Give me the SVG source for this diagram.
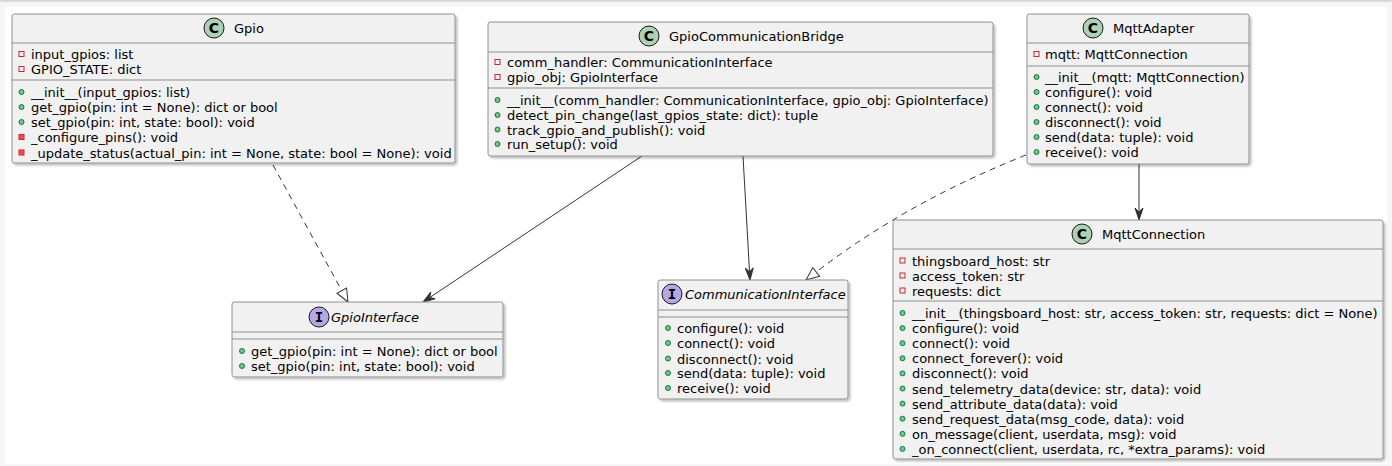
<svg xmlns="http://www.w3.org/2000/svg" width="1392" height="466" viewBox="0 0 1392 466">
<style>
.box{fill:#F1F1F1;stroke:#8f8f8f;stroke-width:1;filter:url(#sh)}
.sep{stroke:#8f8f8f;stroke-width:1}
text{font-family:"DejaVu Sans","Liberation Sans",sans-serif;font-size:13px;fill:#000}
.it{font-style:italic}
.cc{fill:#ADD1B2;stroke:#181818;stroke-width:1}
.ic{fill:#B4A7E5;stroke:#181818;stroke-width:1}
.cl{font-weight:bold;font-size:14px;text-anchor:middle}
.il{font-family:"DejaVu Sans Mono",monospace;font-weight:bold;font-size:14px;text-anchor:middle}
.pa{fill:none;stroke:#C82930;stroke-width:1}
.pm{fill:#F24D5C;stroke:#C82930;stroke-width:1}
.pu{fill:#84BE84;stroke:#038048;stroke-width:1}
.ln{fill:none;stroke:#333;stroke-width:1}
.dash{stroke-dasharray:6,5}
</style>
<defs>
<filter id="sh" x="-5%" y="-5%" width="110%" height="115%">
<feDropShadow dx="2" dy="2" stdDeviation="1.2" flood-color="#000" flood-opacity="0.25"/>
</filter>
<marker id="arr" markerUnits="userSpaceOnUse" markerWidth="14" markerHeight="12" refX="12" refY="5" orient="auto" overflow="visible">
<path d="M0,1 L12,5 L0,9 L4,5 Z" fill="#333" stroke="#333" stroke-width="1"/>
</marker>
<marker id="tri" markerUnits="userSpaceOnUse" markerWidth="16" markerHeight="14" refX="13" refY="5.5" orient="auto" overflow="visible">
<path d="M0,0 L13,5.5 L0,11 Z" fill="#fff" stroke="#333" stroke-width="1" stroke-dasharray="none"/>
</marker>
</defs>
<rect x="0" y="0" width="1392" height="466" fill="#f6f6f6"/>
<line x1="0" y1="1" x2="1392" y2="1" stroke="#cfcfcf" stroke-width="1.5"/>
<rect x="5" y="7" width="1382" height="457" fill="#fff"/>

<g id="connectors">
<path class="ln dash" d="M273,165 L348,302" marker-end="url(#tri)"/>
<path class="ln" d="M642,156 L423,302" marker-end="url(#arr)"/>
<path class="ln" d="M743,156 L750,280" marker-end="url(#arr)"/>
<path class="ln dash" d="M1026,155 Q 900,205 806,280" marker-end="url(#tri)"/>
<path class="ln" d="M1139,164 L1139,220" marker-end="url(#arr)"/>
</g>

<g id="Gpio">
<rect class="box" x="12" y="14" width="443" height="149" rx="2.5"/>
<circle class="cc" cx="214" cy="28" r="10"/><text class="cl" x="214" y="33">C</text>
<text x="234" y="33">Gpio</text>
<line class="sep" x1="12" y1="43" x2="455" y2="43"/>
<rect class="pa" x="19" y="51.5" width="5" height="5"/><text x="31" y="59">input_gpios: list</text>
<rect class="pa" x="19" y="66.5" width="5" height="5"/><text x="31" y="74">GPIO_STATE: dict</text>
<line class="sep" x1="12" y1="80" x2="455" y2="80"/>
<circle class="pu" cx="21.5" cy="92" r="2.5"/><text x="31" y="97">__init__(input_gpios: list)</text>
<circle class="pu" cx="21.5" cy="107" r="2.5"/><text x="31" y="112">get_gpio(pin: int = None): dict or bool</text>
<circle class="pu" cx="21.5" cy="122" r="2.5"/><text x="31" y="127">set_gpio(pin: int, state: bool): void</text>
<rect class="pm" x="19" y="134.5" width="5" height="5"/><text x="31" y="142">_configure_pins(): void</text>
<rect class="pm" x="19" y="150" width="5" height="5"/><text x="31" y="157.5">_update_status(actual_pin: int = None, state: bool = None): void</text>
</g>

<g id="GpioCommunicationBridge">
<rect class="box" x="488" y="22" width="505" height="134" rx="2.5"/>
<circle class="cc" cx="649" cy="36" r="10"/><text class="cl" x="649" y="41">C</text>
<text x="669" y="41">GpioCommunicationBridge</text>
<line class="sep" x1="488" y1="52" x2="993" y2="52"/>
<rect class="pa" x="495" y="59.5" width="5" height="5"/><text x="507" y="67">comm_handler: CommunicationInterface</text>
<rect class="pa" x="495" y="74.5" width="5" height="5"/><text x="507" y="82">gpio_obj: GpioInterface</text>
<line class="sep" x1="488" y1="88" x2="993" y2="88"/>
<circle class="pu" cx="497.5" cy="100" r="2.5"/><text x="507" y="105">__init__(comm_handler: CommunicationInterface, gpio_obj: GpioInterface)</text>
<circle class="pu" cx="497.5" cy="115" r="2.5"/><text x="507" y="120">detect_pin_change(last_gpios_state: dict): tuple</text>
<circle class="pu" cx="497.5" cy="129.5" r="2.5"/><text x="507" y="134.5">track_gpio_and_publish(): void</text>
<circle class="pu" cx="497.5" cy="144" r="2.5"/><text x="507" y="149">run_setup(): void</text>
</g>

<g id="MqttAdapter">
<rect class="box" x="1027" y="14" width="222" height="150" rx="2.5"/>
<circle class="cc" cx="1093" cy="28" r="10"/><text class="cl" x="1093" y="33">C</text>
<text x="1113" y="33">MqttAdapter</text>
<line class="sep" x1="1027" y1="43" x2="1249" y2="43"/>
<rect class="pa" x="1034" y="51.5" width="5" height="5"/><text x="1045" y="59">mqtt: MqttConnection</text>
<line class="sep" x1="1027" y1="66" x2="1249" y2="66"/>
<circle class="pu" cx="1036.5" cy="77" r="2.5"/><text x="1045" y="82">__init__(mqtt: MqttConnection)</text>
<circle class="pu" cx="1036.5" cy="92" r="2.5"/><text x="1045" y="97">configure(): void</text>
<circle class="pu" cx="1036.5" cy="107" r="2.5"/><text x="1045" y="112">connect(): void</text>
<circle class="pu" cx="1036.5" cy="122" r="2.5"/><text x="1045" y="127">disconnect(): void</text>
<circle class="pu" cx="1036.5" cy="137" r="2.5"/><text x="1045" y="142">send(data: tuple): void</text>
<circle class="pu" cx="1036.5" cy="152" r="2.5"/><text x="1045" y="157">receive(): void</text>
</g>

<g id="GpioInterface">
<rect class="box" x="232" y="302" width="271" height="75" rx="2.5"/>
<circle class="ic" cx="319" cy="317" r="10"/><text class="il" x="319" y="322">I</text>
<text class="it" x="331" y="322">GpioInterface</text>
<line class="sep" x1="232" y1="332" x2="503" y2="332"/>
<line class="sep" x1="232" y1="339" x2="503" y2="339"/>
<circle class="pu" cx="242" cy="351" r="2.5"/><text x="251" y="356">get_gpio(pin: int = None): dict or bool</text>
<circle class="pu" cx="242" cy="366" r="2.5"/><text x="251" y="371">set_gpio(pin: int, state: bool): void</text>
</g>

<g id="CommunicationInterface">
<rect class="box" x="658" y="280" width="190" height="119" rx="2.5"/>
<circle class="ic" cx="672" cy="294" r="10"/><text class="il" x="672" y="299">I</text>
<text class="it" x="685" y="299">CommunicationInterface</text>
<line class="sep" x1="658" y1="310" x2="848" y2="310"/>
<line class="sep" x1="658" y1="317" x2="848" y2="317"/>
<circle class="pu" cx="668" cy="328" r="2.5"/><text x="677" y="333">configure(): void</text>
<circle class="pu" cx="668" cy="343" r="2.5"/><text x="677" y="348">connect(): void</text>
<circle class="pu" cx="668" cy="358.5" r="2.5"/><text x="677" y="363.5">disconnect(): void</text>
<circle class="pu" cx="668" cy="373" r="2.5"/><text x="677" y="378">send(data: tuple): void</text>
<circle class="pu" cx="668" cy="388" r="2.5"/><text x="677" y="393">receive(): void</text>
</g>

<g id="MqttConnection">
<rect class="box" x="893" y="220" width="490" height="239" rx="2.5"/>
<circle class="cc" cx="1082" cy="234" r="10"/><text class="cl" x="1082" y="239">C</text>
<text x="1102" y="239">MqttConnection</text>
<line class="sep" x1="893" y1="249" x2="1383" y2="249"/>
<rect class="pa" x="900" y="258" width="5" height="5"/><text x="912" y="265.5">thingsboard_host: str</text>
<rect class="pa" x="900" y="273" width="5" height="5"/><text x="912" y="280.5">access_token: str</text>
<rect class="pa" x="900" y="288" width="5" height="5"/><text x="912" y="295.5">requests: dict</text>
<line class="sep" x1="893" y1="301" x2="1383" y2="301"/>
<circle class="pu" cx="902.5" cy="313" r="2.5"/><text x="912" y="318">__init__(thingsboard_host: str, access_token: str, requests: dict = None)</text>
<circle class="pu" cx="902.5" cy="328.1" r="2.5"/><text x="912" y="333.1">configure(): void</text>
<circle class="pu" cx="902.5" cy="343.2" r="2.5"/><text x="912" y="348.2">connect(): void</text>
<circle class="pu" cx="902.5" cy="358.3" r="2.5"/><text x="912" y="363.3">connect_forever(): void</text>
<circle class="pu" cx="902.5" cy="373.4" r="2.5"/><text x="912" y="378.4">disconnect(): void</text>
<circle class="pu" cx="902.5" cy="388.5" r="2.5"/><text x="912" y="393.5">send_telemetry_data(device: str, data): void</text>
<circle class="pu" cx="902.5" cy="403.6" r="2.5"/><text x="912" y="408.6">send_attribute_data(data): void</text>
<circle class="pu" cx="902.5" cy="418.7" r="2.5"/><text x="912" y="423.7">send_request_data(msg_code, data): void</text>
<circle class="pu" cx="902.5" cy="433.8" r="2.5"/><text x="912" y="438.8">on_message(client, userdata, msg): void</text>
<circle class="pu" cx="902.5" cy="448.9" r="2.5"/><text x="912" y="453.9">_on_connect(client, userdata, rc, *extra_params): void</text>
</g>
</svg>
